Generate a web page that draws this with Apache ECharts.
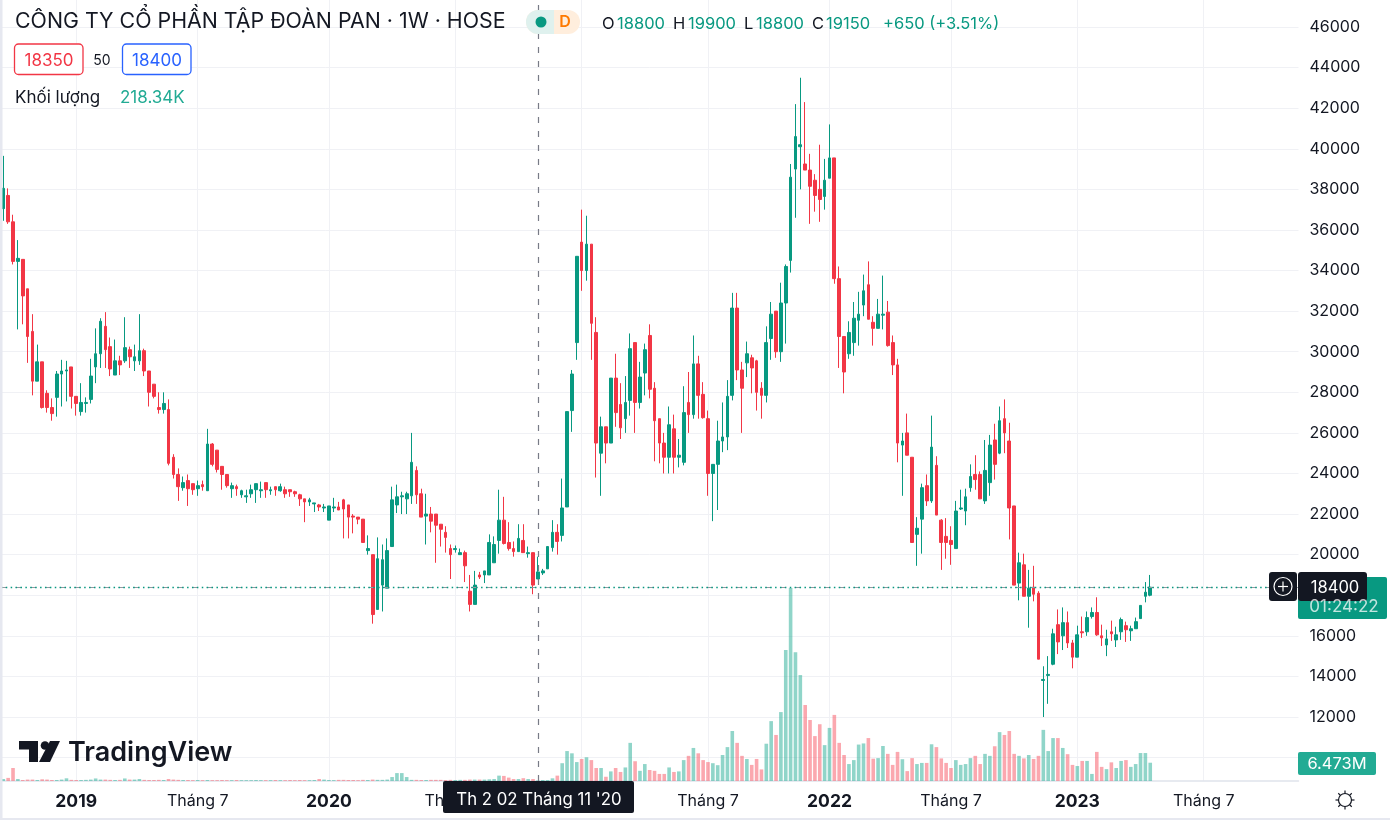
<!DOCTYPE html>
<html>
<head>
<meta charset="utf-8">
<style>html,body{margin:0;padding:0;background:#fff}#main{width:1390px;height:825px}</style>
<script src="https://cdn.jsdelivr.net/npm/echarts@6/dist/echarts.min.js"></script>
</head>
<body>
<div id="main"></div>
<script>
// weekly candles, one row = 10 weeks
var opens = [
37050,37700,36400,34450,34550,33100,31000,28550,29500,27950,
27250,27750,28900,29050,29250,27800,27050,27450,27650,29250,
29900,31250,30250,28850,29550,29550,30100,29550,29550,30050,
29050,28400,27250,27150,27150,24800,23950,23300,23650,23500,
23250,23450,23150,25450,25150,24350,23950,23250,23350,22950,
22850,23000,23200,23150,23550,23150,23350,23150,23200,23200,
23100,22950,22750,22600,22500,22450,22300,21700,22300,22350,
22700,22450,21900,21850,21750,20200,20000,17300,18500,18350,
20400,22450,22850,22750,22900,24150,23000,21900,22000,22000,
21500,21100,20300,20250,20000,20100,18200,17550,19000,19000,
19000,19600,20700,21700,20600,20300,20150,20700,20050,20100,
18800,19100,19300,20350,21100,20950,22350,27100,30450,35400,
34000,35300,30950,25000,26300,25500,28700,27400,26700,27600,
30450,27500,28950,30800,28200,26700,25500,24800,26200,24800,
24550,27500,26900,29400,27900,26700,24000,24450,25600,25800,
27850,32150,29100,29450,29700,29550,28200,27850,30650,32000,
30000,32400,34500,39000,40100,39250,38950,38450,38000,37650,
38550,39550,33600,30750,29900,30450,31550,32300,33300,31450,
31150,31800,31950,30450,29350,25400,26000,24800,21000,21750,
23400,22650,24400,21700,20900,20700,20300,22250,22150,23300,
23950,23950,22650,23550,25650,25000,26700,25600,22400,18600,
19500,17950,18400,18100,13800,14050,14600,16550,16000,16650,
15650,14950,16200,16200,16950,17150,16000,15550,16200,15800,
16200,16500,16250,16350,16850,17950,18000];
var closes = [
38050,36400,34450,34600,32750,30750,28550,29500,27250,27250,
26950,28900,29050,29100,27800,27450,27500,27500,28800,29900,
31500,30100,29150,29550,29350,30200,29750,29750,30050,29050,
28000,27800,27150,27450,24500,23950,23350,23550,23250,23200,
23400,23350,25450,24450,24200,23950,23400,23400,23250,23150,
22900,23200,23500,23200,23200,23200,23200,23350,23000,23100,
23000,22750,22600,22700,22550,22350,22350,22400,22350,22200,
22250,21850,21850,21750,20600,20300,17050,19800,19750,20200,
22700,22850,22900,23000,24550,22950,21850,22000,21650,21450,
21250,20850,20000,20300,20100,19450,17550,18500,18900,19200,
20600,20500,21700,20550,20300,20150,20800,20100,20100,18500,
19150,19200,20400,21100,20650,22300,27050,28900,34700,34000,
35300,31400,25500,26300,25500,28700,27000,26250,27500,30150,
27500,28750,30100,28150,26600,25500,24800,26400,24800,24900,
27000,26900,29400,27850,26750,24000,24450,25600,25800,27800,
32150,29100,28200,29900,29200,28000,27850,30450,31850,30000,
32400,34200,38600,40600,40200,38950,38150,37700,37500,38450,
39550,33600,30750,29000,30950,31650,31850,33000,31600,31150,
31850,31850,30300,29350,25500,25600,24900,20600,21300,23300,
22650,25300,21950,20600,20600,20500,22150,22300,22850,23850,
23700,22750,24150,25400,24450,26600,26000,22300,18500,19600,
17950,18350,18050,14850,13850,14100,16100,15700,16650,15650,
14950,16050,16150,16900,17150,16050,15900,15850,16100,16050,
16800,16300,16350,16700,17500,18150,18400];
var lows = [
36450,36300,34300,31100,31350,29450,27850,28550,27200,27000,
26600,26800,27300,27550,27200,26850,26850,27000,27450,28450,
29200,29200,28800,28850,28850,29450,29200,29050,29350,28800,
27300,27700,26950,26950,24400,23750,22650,23150,22400,22950,
22900,23150,23150,24350,24050,23200,23300,22800,22900,22800,
22550,22800,22550,22800,22800,22950,22900,23100,22800,22850,
22850,22400,21600,22400,22100,22150,22100,21700,22100,22200,
20800,20800,21050,21500,20600,20000,16600,17300,17200,18350,
20400,22050,22000,22000,22500,22500,21850,20500,21100,19600,
20400,20100,18800,20100,20000,18650,17200,17550,18800,18600,
19000,19600,20050,20500,20200,19900,20150,20100,19850,18050,
18800,19000,19300,20150,20000,20650,22350,26050,29600,33000,
33500,29600,23800,22900,24500,25500,26300,25700,26000,26850,
26000,27200,27850,27700,24600,24500,24000,24000,24000,24300,
24400,26000,26700,26700,26700,22900,21650,22200,25050,25150,
27600,28600,26000,28750,27950,27100,26700,27500,29600,29700,
29500,30400,33900,36600,38000,38950,36300,36900,36400,37000,
38550,33350,29200,27950,29650,29800,30300,31750,31600,30300,
31150,31100,30250,28850,24550,22900,24900,20600,19450,20050,
22400,22550,21950,19250,19800,19500,20300,22200,21450,23100,
23200,22750,22500,22900,23700,24950,25000,20750,18500,17750,
17950,16400,17700,14850,12000,12650,14550,15100,15300,15400,
14400,14950,15900,16000,16850,16000,15500,15000,15750,15450,
15800,15700,15750,16350,16850,17650,17950];
var highs = [
39650,38050,36750,35500,34550,33100,31850,30350,29500,28100,
27700,29050,29600,29550,29250,27800,28450,27750,29650,31150,
31650,31950,30700,30600,29800,31700,30250,30350,31850,30150,
29050,28400,28000,28000,27650,24950,24250,23850,23950,23500,
23650,23650,26200,25500,25150,24350,23950,23550,23450,23200,
23200,23450,23500,23600,23550,23350,23350,23500,23350,23200,
23150,23000,22750,22800,22550,22500,22500,22400,22800,22600,
22750,22450,22000,21850,21750,20950,20000,20850,20500,20800,
23350,23450,23100,23100,26000,24350,23250,23000,22350,22000,
21500,21400,20500,20450,20300,20200,19000,19200,19150,19200,
21000,20900,23200,22850,21600,20650,21500,21500,20400,20100,
19900,19300,20400,21700,21500,23750,27050,29100,34700,37000,
36700,35300,31700,26800,26300,28700,29900,28450,28800,30900,
30450,29500,30400,31350,28500,26700,26000,27300,26900,25700,
28300,29000,30800,29800,28500,27100,24450,26600,27500,28600,
32900,32900,29500,30500,29850,29600,28500,31250,32450,32000,
33400,34300,39250,42200,43500,42300,39750,38750,40200,39500,
41200,39550,34200,30750,31500,32450,32950,33800,34450,31750,
32600,33750,32500,30800,29650,26000,26950,24800,21850,23500,
23950,26850,24850,21750,21800,21400,22650,23200,23250,24450,
24900,24100,25650,25900,26450,27300,27650,26500,22400,20100,
20050,19250,19450,18200,14500,15000,16350,17300,17400,17200,
15800,16500,16950,17200,17400,17900,16550,16300,16750,16450,
16900,16700,16500,16900,17500,18650,19000];
// volume in millions
var volumes = [
.7,1.1,4.6,.7,.35,.5,.5,.35,.6,.5,
.35,.35,.5,.95,.4,.35,.35,.4,.5,.9,
.5,.5,.4,.35,.4,.9,.5,.5,.7,.4,
.35,.35,.4,.35,.7,.5,.4,.35,.35,.3,
.35,.3,.35,.3,.3,.35,.3,.3,.35,.3,
.3,.3,.35,.3,.3,.3,.35,.3,.3,.35,
.3,.35,.3,.3,.35,.7,.5,.35,.3,.4,
.4,.35,.35,.3,.4,.35,.5,.4,.4,.5,
1.4,2.8,2.8,1.4,.4,.4,.35,.35,.4,.4,
.4,.35,.4,.35,.4,.4,.5,.5,.5,.5,
.6,.7,1.9,1.8,1.2,.7,.7,1,.7,.7,
.22,.35,.35,.95,1.9,6.3,10.6,9.8,6.7,7.8,
8.4,7.4,4.6,4.6,1.5,3.4,4.6,3.2,4.8,13.5,
7,3.6,6,3.9,3.6,2.5,2.5,4.8,3.2,3.4,
7.4,8.9,11.7,9.8,7.4,6.7,6.3,5.6,9.2,12,
17.7,13.5,8.9,7.8,5.7,7.8,4.1,13.2,21.2,16.3,
24.4,46.4,68.3,45.6,37.5,26.9,21.6,15.9,20.1,12.7,
18.8,23.4,13.5,9.2,6,7.4,12.9,13.3,15.2,7.9,
8.1,12.4,9.6,5.7,10.3,7.7,3.5,8.1,6,6.4,
6.4,13,12,8,6.4,4.6,7.4,5.7,6,8.1,
8.9,6,9.6,8.9,12.3,17.3,16.3,17.7,9.6,8.9,
8,9.2,7.8,8.9,18.1,10.6,15.2,15.2,11.7,9.5,
5.7,5.3,7.1,7.1,2.5,10.3,5,4.2,6.6,4.6,
7.1,7.4,5,6,9.9,9.9,6.473];
// week index -> label on the time axis
var timeTicks = {15:'2019',40:'Tháng 7',67:'2020',93:'Tháng 7',119:'2021',145:'Tháng 7',170:'2022',195:'Tháng 7',221:'2023',247:'Tháng 7'};
var lastPrice = 18400;
var crossWeek = 110;

var FONT = 'Inter';
var GREEN = '#089981', RED = '#F23645', INK = '#131722', GRID = '#f0f1f5';
var SLOTS = 267;   // weeks on screen including the empty right side

var categories = [];
for (var i = 0; i < SLOTS; i++) categories.push('w' + i);

var candles = opens.map(function(o, i){ return [o, closes[i], lows[i], highs[i]]; });
var volBars = volumes.map(function(v, i){
	return {value: v, itemStyle: {color: closes[i] >= opens[i] ? 'rgba(34,171,148,.5)' : 'rgba(247,82,95,.5)'}};
});

function txt(x, y, s, color, size, extra){
	var style = {text: s, fill: color, font: (extra && extra.weight || 400) + ' ' + size + 'px ' + FONT,
		textAlign: extra && extra.align || 'left', textVerticalAlign: 'middle'};
	return {type: 'text', x: x, y: y + 1, z: 60, silent: true, style: style};
}
function box(x, y, w, h, fill, stroke, r){
	return {type: 'rect', z: 55, silent: true, shape: {x: x, y: y, width: w, height: h, r: r || 0},
		style: {fill: fill, stroke: stroke || null, lineWidth: stroke ? 1.3 : 0}};
}
function seg(x1, y1, x2, y2, color, w){
	return {type: 'line', z: 58, silent: true, shape: {x1: x1, y1: y1, x2: x2, y2: y2}, style: {stroke: color, lineWidth: w}};
}

var gfx = [
	// frame
	box(0, 0, 2.5, 818, '#e6e8f0'),
	box(0, 818, 1390, 2, '#e6e8f0'),
	// legend
	txt(15, 21, 'CÔNG TY CỔ PHẦN TẬP ĐOÀN PAN · 1W · HOSE', INK, 21.35),
	box(14.5, 44, 68.5, 30.5, '#fff', RED, 4),
	txt(49, 59.5, '18350', RED, 17, {align: 'center'}),
	txt(102, 59.5, '50', INK, 14, {align: 'center'}),
	box(122.5, 44, 68.5, 30.5, '#fff', '#2962FF', 4),
	txt(157, 59.5, '18400', '#2962FF', 17, {align: 'center'}),
	txt(15, 97, 'Khối lượng', INK, 17),
	txt(120, 97, '218.34K', '#22ab94', 17),
	// status pill
	{type: 'rect', z: 55, silent: true, shape: {x: 526, y: 10, width: 54, height: 24, r: 12}, style: {fill: '#ffeedd'}},
	{type: 'rect', z: 55, silent: true, shape: {x: 526, y: 10, width: 28, height: 24, r: [12, 0, 0, 12]}, style: {fill: '#dff1ee'}},
	{type: 'circle', z: 56, silent: true, shape: {cx: 541, cy: 22, r: 5.5}, style: {fill: GREEN}},
	txt(565, 21, 'D', '#ff7a00', 16, {align: 'center', weight: 600}),
	// OHLC
	txt(602, 23, 'O', INK, 16.5), txt(617, 23, '18800', GREEN, 16.5),
	txt(673, 23, 'H', INK, 16.5), txt(688, 23, '19900', GREEN, 16.5),
	txt(744, 23, 'L', INK, 16.5), txt(756, 23, '18800', GREEN, 16.5),
	txt(812, 23, 'C', INK, 16.5), txt(826, 23, '19150', GREEN, 16.5),
	txt(883, 23, '+650 (+3.51%)', GREEN, 16.5),
	// price tags
	box(1298, 577, 89, 42, GREEN, null, 2),
	txt(1344, 606, '01:24:22', 'rgba(255,255,255,.75)', 17, {align: 'center'}),
	box(1269, 572, 28, 29, INK, null, 3),
	box(1298, 572, 69, 29, INK, null, 3),
	{type: 'circle', z: 60, silent: true, shape: {cx: 1283, cy: 586.5, r: 9}, style: {fill: 'none', stroke: '#fff', lineWidth: 1.2}},
	seg(1278, 586.5, 1288, 586.5, '#fff', 1.2),
	seg(1283, 581.5, 1283, 591.5, '#fff', 1.2),
	txt(1335, 586.5, String(lastPrice), '#fff', 16.6, {align: 'center'}),
	box(1298, 752, 78, 23, '#22ab94', null, 2),
	txt(1337, 763, '6.473M', '#fff', 16.5, {align: 'center'}),
	// crosshair date
	box(443, 781, 191, 32, INK, null, 2),
	txt(539, 798.5, "Th 2 02 Tháng 11 '20", '#fff', 16.8, {align: 'center'}),
	// logo
	{type: 'polygon', z: 56, silent: true, shape: {points: [[19, 741], [38, 741], [38, 762], [29, 762], [29, 749.5], [19, 749.5]]}, style: {fill: INK}},
	{type: 'circle', z: 56, silent: true, shape: {cx: 45, cy: 745.5, r: 4.3}, style: {fill: INK}},
	{type: 'polygon', z: 56, silent: true, shape: {points: [[50, 741], [60, 741], [50, 762], [39, 762]]}, style: {fill: INK}},
	txt(68, 751.5, 'TradingView', INK, 27, {weight: 600}),
	// settings icon
	{type: 'circle', z: 60, silent: true, shape: {cx: 1345, cy: 800, r: 6.5}, style: {fill: 'none', stroke: INK, lineWidth: 1.2}}
];
for (var a = 0; a < 8; a++) {
	var t = a * Math.PI / 4;
	gfx.push(seg(1345 + 6.5 * Math.cos(t), 800 + 6.5 * Math.sin(t), 1345 + 9.5 * Math.cos(t), 800 + 9.5 * Math.sin(t), INK, 1.2));
}

var myChart = echarts.init(document.getElementById('main'));

var option = {
	animation: false,
	backgroundColor: '#fff',
	graphic: gfx,
	grid: [
		{left: 0.87, width: 1297.6, top: 27, height: 730.6},
		{left: 0.87, width: 1297.6, top: 0, height: 781}
	],
	xAxis: [
		{type: 'category', gridIndex: 0, data: categories, show: false},
		{
			type: 'category', gridIndex: 1, data: categories,
			axisLine: {lineStyle: {color: '#e0e3eb', width: 1.5}},
			axisTick: {show: false},
			axisLabel: {
				interval: function(idx){ return timeTicks[idx] !== undefined; },
				formatter: function(v, idx){
					var s = timeTicks[idx];
					return /^\d+$/.test(s) ? '{y|' + s + '}' : '{m|' + s + '}';
				},
				margin: 12,
				rich: {
					y: {fontFamily: FONT, fontSize: 17.5, fontWeight: 700, color: INK},
					m: {fontFamily: FONT, fontSize: 16, color: INK}
				}
			},
			splitLine: {
				show: true, alignWithLabel: true,
				interval: function(idx){ return timeTicks[idx] !== undefined; },
				lineStyle: {color: GRID, width: 1}
			}
		}
	],
	yAxis: [
		{
			type: 'value', gridIndex: 0, position: 'right', min: 10000, max: 46000, interval: 2000,
			axisLine: {show: false}, axisTick: {show: false},
			axisLabel: {
				margin: 11, fontFamily: FONT, fontSize: 16, color: INK, padding: [2, 0, 0, 0],
				formatter: function(v){ return v < 12000 ? '' : String(v); }
			},
			splitLine: {lineStyle: {color: GRID, width: 1}}
		},
		{type: 'value', gridIndex: 1, min: 0, max: 276.5, show: false}
	],
	series: [
		{
			name: 'Giá', type: 'candlestick', xAxisIndex: 0, yAxisIndex: 0, data: candles,
			barWidth: 3.2,
			itemStyle: {color: GREEN, color0: RED, borderColor: GREEN, borderColor0: RED, borderWidth: 1},
			markLine: {
				silent: true, symbol: 'none', label: {show: false}, animation: false,
				data: [
					{yAxis: lastPrice, lineStyle: {color: '#9598a1', type: [6, 8.7], width: 1.2}},
					{yAxis: lastPrice, lineStyle: {color: GREEN, type: [1.5, 3.4], width: 1.3}}
				]
			}
		},
		{
			name: 'Khối lượng', type: 'bar', xAxisIndex: 1, yAxisIndex: 1, data: volBars,
			barWidth: 3.6,
			markLine: {
				silent: true, symbol: 'none', label: {show: false}, animation: false,
				data: [{xAxis: crossWeek, lineStyle: {color: '#787b86', type: [6, 8], width: 1.2}}]
			}
		}
	]
};

myChart.setOption(option);
</script>
</body>
</html>
